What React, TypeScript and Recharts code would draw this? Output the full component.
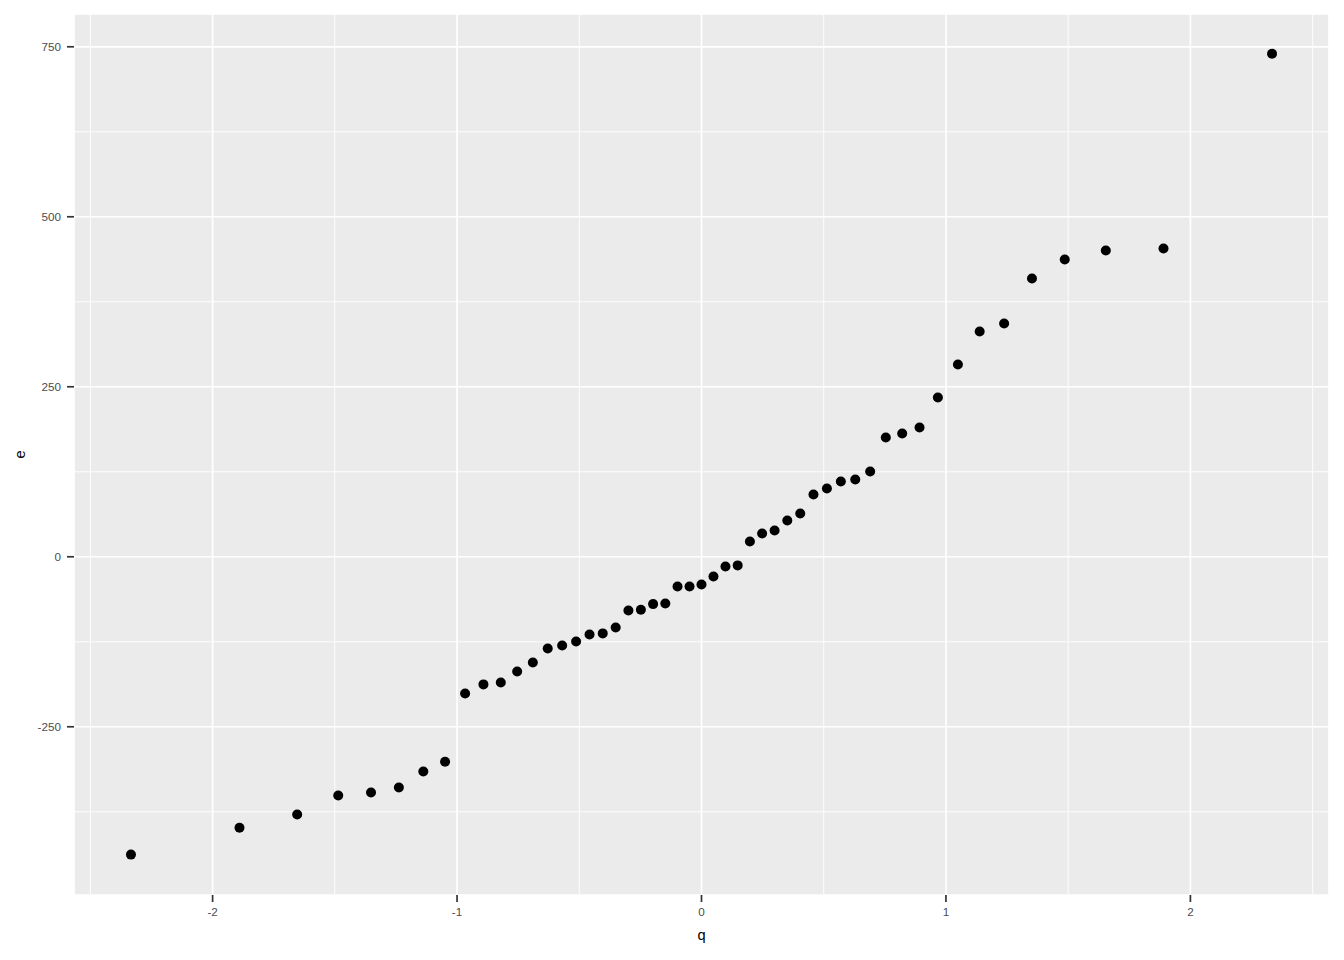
import { ScatterChart, Scatter, XAxis, YAxis, CartesianGrid, ReferenceLine } from 'recharts';

// theoretical quantiles (n = 51)
const qValues = [
  -2.334, -1.89, -1.654, -1.486, -1.352, -1.238, -1.138, -1.049, -0.967, -0.892,
  -0.821, -0.754, -0.69, -0.629, -0.57, -0.513, -0.458, -0.404, -0.351, -0.299,
  -0.248, -0.198, -0.148, -0.098, -0.049, 0, 0.049, 0.098, 0.148, 0.198,
  0.248, 0.299, 0.351, 0.404, 0.458, 0.513, 0.57, 0.629, 0.69, 0.754,
  0.821, 0.892, 0.967, 1.049, 1.138, 1.238, 1.352, 1.486, 1.654, 1.89, 2.334,
];

// sample values, sorted
const eValues = [
  -438, -398.5, -379, -351, -346.6, -339.3, -315.7, -301.5, -201, -187.7,
  -184.8, -168.7, -155.4, -134.8, -130.4, -124.5, -114.2, -112.7, -103.9, -78.9,
  -77.9, -69.6, -68.6, -43.6, -43.6, -40.7, -28.9, -14.2, -12.7, 22.5,
  34.3, 38.7, 53.4, 63.7, 91.6, 100.4, 110.7, 113.7, 125.4, 175.4,
  181.3, 190.1, 234.3, 282.8, 331.3, 343.1, 409.3, 437.2, 450.4, 453.4, 739.7,
];

const xTicks = [-2, -1, 0, 1, 2];
const yTicks = [-250, 0, 250, 500, 750];
const xMinor = [-2.5, -1.5, -0.5, 0.5, 1.5, 2.5];
const yMinor = [-375, -125, 125, 375, 625];

const points = qValues.map((q, i) => ({ q, e: eValues[i] }));

const FONT = '"Liberation Sans", Arial, Helvetica, sans-serif';
const tickStyle = { fontSize: 11.7, fill: '#4D4D4D', fontFamily: FONT };

const Dot = (props: any) => <circle cx={props.cx} cy={props.cy} r={5} fill="#000" />;

export default function App() {
  return (
    <div style={{ width: 1344, height: 960, background: '#fff' }}>
      <style>{'body{margin:0}'}</style>
      <ScatterChart width={1344} height={960} margin={{ top: 14, right: 15, bottom: 0, left: 0 }}>
        <CartesianGrid fill="#EBEBEB" fillOpacity={1} stroke="#FFFFFF" strokeWidth={1.7} />
        {xMinor.map((v) => (
          <ReferenceLine key={'x' + v} x={v} stroke="#FFFFFF" strokeWidth={0.9} />
        ))}
        {yMinor.map((v) => (
          <ReferenceLine key={'y' + v} y={v} stroke="#FFFFFF" strokeWidth={0.9} />
        ))}
        <XAxis
          type="number"
          dataKey="q"
          domain={[-2.567, 2.567]}
          ticks={xTicks}
          allowDataOverflow
          axisLine={false}
          tickLine={{ stroke: '#333333', strokeWidth: 1.7 }}
          tickSize={7}
          tickMargin={6}
          height={65}
          tick={tickStyle}
          label={{ value: 'q', position: 'insideBottom', offset: 20, fill: '#000', fontSize: 14.67, fontFamily: FONT }}
        />
        <YAxis
          type="number"
          dataKey="e"
          domain={[-497.4, 798.2]}
          ticks={yTicks}
          allowDataOverflow
          axisLine={false}
          tickLine={{ stroke: '#333333', strokeWidth: 1.7 }}
          tickSize={7}
          tickMargin={6}
          width={74}
          tick={tickStyle}
          label={{
            value: 'e',
            angle: -90,
            position: 'insideLeft',
            offset: 19.5,
            fill: '#000',
            fontSize: 14.67,
            fontFamily: FONT,
            style: { textAnchor: 'middle' },
          }}
        />
        <Scatter data={points} shape={Dot} isAnimationActive={false} />
      </ScatterChart>
    </div>
  );
}
